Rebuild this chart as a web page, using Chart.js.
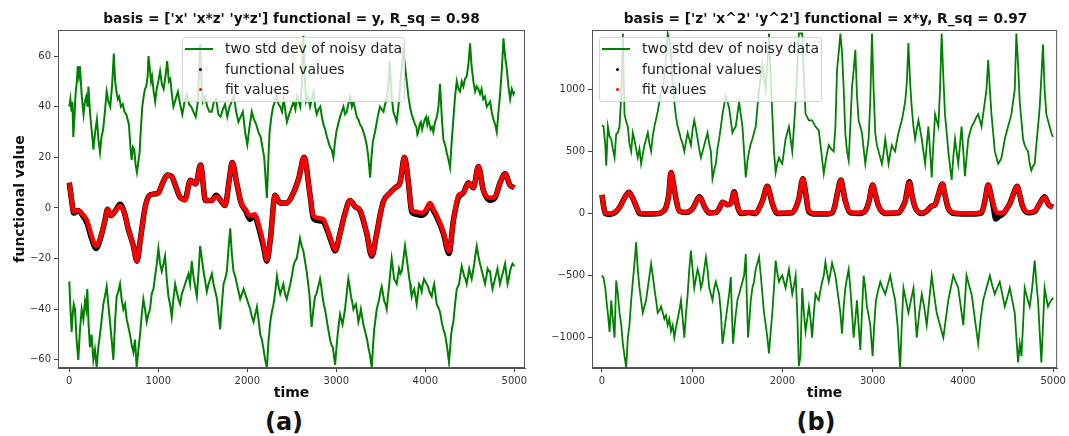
<!DOCTYPE html>
<html>
<head>
<meta charset="utf-8">
<script src="https://cdn.jsdelivr.net/npm/chart.js@4.4.0/dist/chart.umd.min.js"></script>
<style>
    body { margin: 0; background: #fff; font-family: "DejaVu Sans", sans-serif; }
    #wrap { position: relative; width: 1069px; height: 436px; overflow: hidden; }
    canvas { position: absolute; top: 0; }
    .title { position: absolute; top: 10px; width: 467px; font-weight: bold; font-size: 13.7px; text-align: center; color: #111; white-space: nowrap; }
    .panel { position: absolute; top: 407px; width: 80px; line-height: 30px; font-weight: bold; font-size: 24px; text-align: center; color: #111; }
    .legend { position: absolute; top: 37px; width: 221px; height: 63px; background: rgba(255, 255, 255, 0.8); border: 1px solid #d4d4d4; border-radius: 3px; font-size: 14px; color: #222; }
    .legend div { position: relative; height: 20.5px; line-height: 20.5px; padding-left: 42px; white-space: nowrap; }
    .legend .line { position: absolute; left: 2px; top: 10px; width: 28px; height: 2px; padding: 0; background: #008000; }
    .legend .dot { position: absolute; left: 16px; top: 9px; width: 3px; height: 3px; padding: 0; border-radius: 50%; }
</style>
</head>
<body>
<div id="wrap">
    <canvas id="chartA" width="535" height="405" style="left:0"></canvas>
    <canvas id="chartB" width="534" height="405" style="left:535px"></canvas>

    <div class="title" style="left:58px">basis = ['x' 'x*z' 'y*z'] functional = y, R_sq = 0.98</div>
    <div class="title" style="left:592px">basis = ['z' 'x^2' 'y^2'] functional = x*y, R_sq = 0.97</div>

    <div class="legend" style="left:182px">
        <div><span class="line"></span>two std dev of noisy data</div>
        <div><span class="dot" style="background:#000"></span>functional values</div>
        <div><span class="dot" style="background:#f00"></span>fit values</div>
    </div>
    <div class="legend" style="left:599px">
        <div><span class="line"></span>two std dev of noisy data</div>
        <div><span class="dot" style="background:#000"></span>functional values</div>
        <div><span class="dot" style="background:#f00"></span>fit values</div>
    </div>

    <div class="panel" style="left:244px">(a)</div>
    <div class="panel" style="left:776px">(b)</div>
</div>

<script>
// Tick labels
const xTicks = [0, 1000, 2000, 3000, 4000, 5000];
const yTicksA = [-60, -40, -20, 0, 20, 40, 60];
const yTicksB = [-1000, -500, 0, 500, 1000];

// (a) y-functional: [time, value]
const upperA = [[0,40],[12,43],[25,38],[35,42],[45,28],[58,36],[70,45],[85,50],[95,56],[108,52],[120,56],[140,44],[160,37],[175,42],[190,44],[205,40],[215,48],[232,38],[250,31],[262,27],[270,23],[290,30],[310,35],[328,27],[345,22],[362,28],[380,31],[400,38],[420,46],[440,42],[460,40],[480,48],[500,61],[515,50],[530,46],[545,43],[560,44],[580,40],[600,41],[620,38],[640,37],[655,35],[670,33],[685,25],[700,19],[715,24],[730,23],[745,17],[760,14],[775,18],[790,22],[805,32],[820,40],[835,44],[850,47],[865,48],[880,52],[890,60],[905,55],[918,50],[930,52],[948,46],[965,42],[982,47],[1000,50],[1020,54],[1040,49],[1060,47],[1080,52],[1100,58],[1118,50],[1135,51],[1152,45],[1170,40],[1195,43],[1220,46],[1245,41],[1270,37],[1295,42],[1320,45],[1345,41],[1370,40],[1395,38],[1420,36],[1445,42],[1470,65],[1485,50],[1500,42],[1525,44],[1550,40],[1575,38],[1600,38],[1625,42],[1650,43],[1675,37],[1700,36],[1725,39],[1750,41],[1775,36],[1800,40],[1825,42],[1850,44],[1875,38],[1900,34],[1925,36],[1950,38],[1975,30],[2000,25],[2025,32],[2050,38],[2075,35],[2100,33],[2125,30],[2150,28],[2170,24],[2190,20],[2205,12],[2220,4],[2235,18],[2250,30],[2270,36],[2290,40],[2310,42],[2330,44],[2350,41],[2370,40],[2390,38],[2410,43],[2428,38],[2445,34],[2462,36],[2480,38],[2500,40],[2520,42],[2540,39],[2560,44],[2578,42],[2595,40],[2612,48],[2630,68],[2645,52],[2660,42],[2682,44],[2705,40],[2725,43],[2745,46],[2762,40],[2780,37],[2800,39],[2820,40],[2838,36],[2855,33],[2875,31],[2895,28],[2912,26],[2930,24],[2948,23],[2967,20],[2985,26],[3000,30],[3020,33],[3042,36],[3060,38],[3080,40],[3098,37],[3117,38],[3135,41],[3155,44],[3175,40],[3192,42],[3212,39],[3230,36],[3248,35],[3266,33],[3285,32],[3305,30],[3322,28],[3341,25],[3360,20],[3380,12],[3395,20],[3410,26],[3422,28],[3435,30],[3450,33],[3465,36],[3478,38],[3491,40],[3510,39],[3530,38],[3548,41],[3566,43],[3584,48],[3600,58],[3620,45],[3641,38],[3660,36],[3678,34],[3698,40],[3716,48],[3735,55],[3753,62],[3772,56],[3791,50],[3810,44],[3828,40],[3846,37],[3866,35],[3884,33],[3900,32],[3911,29],[3922,30],[3936,33],[3950,34],[3964,31],[3978,33],[3994,35],[4010,36],[4022,33],[4034,35],[4047,33],[4060,31],[4075,32],[4090,30],[4110,34],[4130,36],[4148,40],[4165,49],[4185,36],[4203,27],[4222,25],[4240,22],[4260,19],[4278,16],[4296,26],[4315,35],[4334,44],[4353,50],[4372,47],[4390,46],[4410,50],[4428,48],[4446,51],[4465,52],[4485,57],[4503,65],[4520,56],[4540,50],[4560,46],[4578,48],[4596,47],[4615,45],[4632,47],[4650,43],[4670,44],[4690,40],[4710,41],[4728,42],[4746,38],[4765,35],[4785,33],[4803,30],[4822,38],[4840,45],[4860,55],[4878,67],[4896,60],[4915,55],[4934,48],[4953,43],[4972,47],[4990,45],[5000,46]];

const lowerA = [[0,-29],[13,-40],[26,-49],[38,-42],[50,-38],[64,-40],[82,-52],[101,-60],[120,-48],[139,-40],[158,-44],[176,-37],[190,-40],[202,-32],[217,-46],[232,-55],[250,-50],[270,-60],[288,-56],[307,-63],[326,-55],[345,-50],[364,-44],[382,-38],[400,-35],[420,-31],[438,-38],[457,-45],[476,-52],[495,-60],[514,-45],[532,-35],[551,-33],[570,-30],[588,-36],[607,-40],[626,-38],[645,-44],[664,-47],[682,-50],[701,-54],[720,-57],[738,-52],[757,-63],[776,-56],[795,-50],[814,-42],[832,-36],[851,-40],[870,-45],[888,-42],[907,-40],[925,-34],[945,-32],[964,-27],[983,-22],[1001,-16],[1020,-22],[1039,-25],[1058,-22],[1076,-19],[1095,-28],[1114,-35],[1132,-38],[1151,-43],[1170,-36],[1189,-30],[1207,-33],[1226,-36],[1245,-38],[1264,-34],[1283,-32],[1301,-30],[1320,-28],[1339,-26],[1357,-30],[1376,-21],[1395,-27],[1414,-31],[1433,-35],[1451,-26],[1470,-15],[1489,-20],[1508,-25],[1527,-29],[1545,-33],[1564,-30],[1583,-28],[1602,-26],[1620,-30],[1640,-33],[1660,-36],[1677,-42],[1695,-48],[1714,-38],[1733,-30],[1751,-28],[1770,-25],[1789,-16],[1808,-8],[1826,-18],[1845,-25],[1864,-27],[1883,-30],[1901,-33],[1920,-36],[1939,-34],[1958,-32],[1976,-34],[1995,-36],[2014,-38],[2033,-40],[2051,-43],[2070,-45],[2089,-42],[2108,-39],[2126,-44],[2145,-50],[2164,-52],[2183,-56],[2201,-60],[2220,-63],[2239,-52],[2258,-45],[2276,-41],[2295,-38],[2314,-33],[2333,-27],[2351,-31],[2370,-34],[2388,-32],[2405,-30],[2424,-34],[2443,-36],[2463,-33],[2483,-30],[2500,-27],[2518,-23],[2536,-21],[2555,-20],[2574,-16],[2592,-12],[2611,-15],[2630,-17],[2648,-21],[2667,-25],[2684,-30],[2700,-35],[2712,-42],[2723,-47],[2742,-40],[2761,-35],[2775,-34],[2790,-32],[2804,-30],[2817,-28],[2831,-31],[2845,-35],[2859,-38],[2873,-40],[2887,-43],[2900,-46],[2915,-49],[2930,-52],[2945,-54],[2960,-55],[2973,-58],[2986,-62],[3000,-56],[3015,-50],[3028,-46],[3042,-42],[3056,-44],[3070,-46],[3084,-43],[3098,-40],[3116,-34],[3135,-28],[3150,-31],[3165,-35],[3178,-37],[3192,-40],[3206,-39],[3220,-38],[3234,-41],[3248,-45],[3262,-43],[3276,-40],[3290,-43],[3304,-46],[3318,-48],[3332,-50],[3346,-52],[3360,-55],[3378,-58],[3398,-63],[3412,-55],[3425,-48],[3440,-44],[3454,-40],[3468,-38],[3482,-36],[3496,-33],[3510,-31],[3525,-34],[3540,-37],[3553,-38],[3566,-40],[3580,-35],[3595,-30],[3608,-25],[3622,-20],[3636,-24],[3650,-28],[3664,-29],[3678,-30],[3692,-27],[3705,-24],[3720,-26],[3735,-25],[3754,-20],[3772,-15],[3791,-20],[3810,-25],[3820,-28],[3830,-30],[3838,-33],[3847,-35],[3861,-33],[3875,-32],[3889,-35],[3903,-38],[3916,-34],[3930,-30],[3945,-31],[3959,-33],[3972,-30],[3985,-28],[4000,-29],[4015,-30],[4030,-31],[4045,-33],[4058,-34],[4072,-35],[4086,-32],[4100,-30],[4114,-34],[4128,-38],[4142,-39],[4156,-40],[4170,-42],[4184,-45],[4203,-48],[4222,-50],[4245,-55],[4266,-61],[4278,-56],[4290,-50],[4303,-47],[4315,-45],[4334,-38],[4353,-32],[4366,-31],[4380,-30],[4395,-26],[4409,-23],[4423,-25],[4437,-27],[4451,-28],[4465,-30],[4479,-27],[4493,-24],[4507,-26],[4521,-28],[4536,-25],[4550,-22],[4564,-18],[4578,-15],[4596,-19],[4615,-22],[4629,-24],[4643,-26],[4657,-28],[4671,-30],[4686,-27],[4700,-24],[4714,-25],[4727,-25],[4741,-29],[4755,-32],[4769,-30],[4783,-28],[4797,-26],[4811,-24],[4825,-27],[4839,-30],[4853,-28],[4868,-26],[4882,-24],[4896,-22],[4910,-26],[4924,-30],[4938,-28],[4952,-25],[4966,-23],[4980,-22],[5000,-23]];

const funcA = [[0,10],[30,2],[50,-2],[100,-1],[150,-3],[200,-6],[250,-12],[300,-16],[350,-12],[400,-5],[430,-0.5],[470,-3],[520,-1],[570,1.5],[620,-2],[660,-8],[720,-15],[760,-21],[800,-12],[850,0],[900,5],[950,5.5],[1000,6],[1050,10],[1100,13],[1150,12.5],[1200,8],[1250,4],[1300,3.5],[1360,11],[1420,9.5],[1475,17],[1530,3],[1600,3],[1650,5],[1700,3],[1750,1],[1800,12],[1830,18],[1880,10],[1930,2],[1980,-1],[2030,-4.5],[2080,-3],[2130,-8],[2180,-15],[2220,-21],[2260,-12],[2311,5],[2368,2],[2440,2],[2518,6],[2580,12],[2637,20],[2705,5],[2742,-4],[2800,-5],[2855,-5.5],[2900,-9],[2950,-14],[2986,-17],[3042,-10],[3098,-2],[3154,3],[3210,0.6],[3266,-1],[3341,-10],[3398,-19],[3454,-10],[3491,-3],[3529,2.6],[3604,6],[3660,8],[3716,10],[3765,20],[3810,10],[3847,-1.5],[3900,-2.5],[3960,-3],[4000,-2],[4053,1.5],[4090,-1],[4128,-3.5],[4203,-10],[4266,-18],[4315,-5],[4371,4],[4428,6],[4484,10],[4540,8],[4596,16.4],[4652,7],[4727,3],[4783,4],[4840,10],[4896,13.5],[4952,9],[5000,8]];

const fitA = [[0,10],[30,2],[50,-1.5],[100,-1],[150,-2.5],[200,-5],[250,-11],[300,-15],[350,-11.5],[400,-5],[430,-0.5],[470,-3],[520,-1],[570,0.8],[620,-2],[660,-8],[720,-15],[760,-21],[800,-12],[850,0],[900,5],[950,5.5],[1000,6],[1050,10],[1100,13],[1150,12.5],[1200,8],[1250,4],[1300,3],[1360,11],[1420,9.5],[1475,17],[1530,3],[1600,3],[1650,4.5],[1700,3],[1750,1],[1800,12],[1830,18],[1880,10],[1930,2],[1980,-0.5],[2030,-3],[2080,-2.5],[2130,-7],[2180,-14],[2220,-20.5],[2260,-12],[2311,5],[2368,2],[2440,2],[2518,6],[2580,12],[2637,20],[2705,5],[2742,-3],[2800,-4],[2855,-4.5],[2900,-8.5],[2950,-13.5],[2986,-16.5],[3042,-10],[3098,-2],[3154,3],[3210,0.6],[3266,-0.7],[3341,-10],[3398,-18.5],[3454,-10],[3491,-3],[3529,2.6],[3604,6],[3660,8],[3716,10],[3765,20],[3810,10],[3847,-1],[3900,-1.5],[3960,-2],[4000,-1],[4053,2],[4090,-0.5],[4128,-3],[4203,-9.5],[4266,-17.2],[4315,-5],[4371,5],[4428,6],[4484,10],[4540,8],[4596,16.4],[4652,7],[4727,4],[4783,4.5],[4840,10],[4896,13.5],[4952,9],[5000,8]];

// (b) x*y-functional: [time, value]
const upperB = [[0,711],[18,700],[37,550],[48,384],[66,700],[85,620],[103,600],[121,520],[140,450],[158,640],[177,650],[195,700],[214,950],[232,1450],[250,800],[269,740],[287,700],[305,560],[324,500],[342,650],[361,590],[379,520],[397,450],[416,520],[434,400],[453,480],[471,550],[490,600],[508,650],[527,560],[545,500],[563,620],[581,700],[600,760],[618,820],[637,900],[655,980],[674,1000],[692,1100],[710,1250],[729,1450],[747,1400],[765,1300],[784,1050],[802,900],[820,780],[839,700],[858,650],[876,600],[895,560],[913,500],[932,580],[950,650],[968,600],[986,550],[1005,680],[1023,750],[1042,680],[1060,600],[1078,520],[1097,450],[1115,500],[1133,550],[1152,600],[1170,650],[1189,560],[1207,500],[1225,280],[1244,350],[1262,400],[1280,520],[1299,600],[1318,700],[1336,800],[1355,880],[1373,950],[1391,900],[1409,850],[1428,750],[1446,650],[1465,680],[1483,700],[1501,800],[1520,900],[1538,800],[1557,700],[1575,500],[1594,290],[1612,420],[1630,500],[1649,560],[1667,600],[1685,650],[1704,700],[1722,850],[1741,1000],[1760,1100],[1778,1200],[1796,1100],[1815,1000],[1833,1200],[1851,1450],[1870,1100],[1888,800],[1906,500],[1925,330],[1943,400],[1962,450],[1980,420],[1998,400],[2017,500],[2035,600],[2054,650],[2072,700],[2090,600],[2109,500],[2128,700],[2146,900],[2164,1150],[2182,1450],[2200,1450],[2219,1450],[2238,1100],[2256,805],[2292,750],[2329,750],[2366,700],[2403,670],[2430,500],[2458,320],[2485,450],[2513,550],[2540,520],[2568,500],[2587,700],[2605,1157],[2624,1300],[2642,1450],[2660,1300],[2679,1000],[2697,643],[2716,500],[2734,427],[2752,700],[2771,1020],[2789,1150],[2808,1319],[2826,950],[2844,750],[2863,700],[2881,650],[2900,520],[2918,400],[2936,500],[2955,600],[2973,900],[2992,1450],[3010,1000],[3028,650],[3047,550],[3065,500],[3084,450],[3102,400],[3120,480],[3139,600],[3158,500],[3176,400],[3194,480],[3212,550],[3231,520],[3249,500],[3267,580],[3286,650],[3304,700],[3323,750],[3341,820],[3360,900],[3378,1050],[3396,1373],[3415,1050],[3433,850],[3452,700],[3470,600],[3488,680],[3507,750],[3525,680],[3544,600],[3562,500],[3581,400],[3599,550],[3617,700],[3636,500],[3654,290],[3672,550],[3691,800],[3709,750],[3728,700],[3746,1000],[3764,1450],[3783,1100],[3801,800],[3820,650],[3838,500],[3857,380],[3875,270],[3893,450],[3912,600],[3930,500],[3948,400],[3967,550],[3985,700],[4004,500],[4022,300],[4040,450],[4059,600],[4077,650],[4096,700],[4114,720],[4132,750],[4151,780],[4169,800],[4188,750],[4206,700],[4224,800],[4243,900],[4261,1000],[4280,1238],[4298,1000],[4316,800],[4335,650],[4353,500],[4372,450],[4390,400],[4408,420],[4427,450],[4445,520],[4464,600],[4482,650],[4500,700],[4519,750],[4537,800],[4556,900],[4574,1000],[4592,1450],[4611,1200],[4629,900],[4648,750],[4666,600],[4684,550],[4703,520],[4721,500],[4740,400],[4758,346],[4776,380],[4795,400],[4813,550],[4832,700],[4850,850],[4869,1100],[4887,1360],[4905,1000],[4924,800],[4942,750],[4961,700],[4979,650],[4997,616]];

const lowerB = [[0,-500],[18,-520],[37,-600],[50,-700],[66,-808],[85,-955],[103,-700],[121,-850],[140,-1000],[158,-540],[177,-650],[195,-800],[214,-900],[232,-1050],[250,-1150],[269,-1240],[287,-1000],[305,-900],[324,-700],[342,-550],[361,-400],[379,-233],[397,-450],[416,-600],[434,-700],[453,-800],[471,-750],[489,-700],[508,-600],[527,-500],[545,-406],[563,-500],[581,-600],[600,-700],[618,-800],[637,-780],[655,-750],[674,-800],[692,-850],[710,-820],[729,-900],[747,-850],[765,-950],[784,-900],[802,-1000],[820,-920],[839,-850],[858,-780],[876,-700],[895,-850],[913,-1000],[932,-800],[950,-650],[968,-450],[986,-300],[1005,-450],[1023,-600],[1042,-520],[1060,-450],[1078,-500],[1097,-600],[1115,-550],[1133,-450],[1152,-353],[1170,-450],[1189,-600],[1207,-650],[1225,-700],[1244,-600],[1262,-550],[1280,-600],[1299,-650],[1318,-800],[1336,-1050],[1355,-950],[1373,-850],[1391,-750],[1409,-650],[1428,-513],[1440,-800],[1453,-1050],[1477,-850],[1501,-700],[1520,-650],[1538,-600],[1557,-550],[1575,-500],[1594,-326],[1606,-700],[1619,-1000],[1635,-850],[1649,-700],[1667,-600],[1685,-550],[1704,-450],[1722,-400],[1741,-350],[1760,-500],[1778,-650],[1796,-800],[1815,-900],[1833,-1000],[1851,-1128],[1870,-950],[1888,-800],[1906,-600],[1925,-380],[1943,-480],[1962,-550],[1980,-520],[1998,-500],[2017,-550],[2035,-600],[2054,-520],[2072,-450],[2090,-550],[2109,-650],[2128,-580],[2146,-500],[2164,-800],[2182,-1230],[2200,-1150],[2219,-600],[2238,-800],[2256,-950],[2275,-850],[2293,-750],[2311,-850],[2329,-1000],[2348,-800],[2366,-650],[2385,-680],[2403,-700],[2421,-620],[2440,-550],[2458,-500],[2476,-393],[2495,-480],[2513,-550],[2532,-480],[2550,-400],[2568,-450],[2587,-500],[2605,-600],[2624,-700],[2642,-800],[2660,-968],[2679,-750],[2697,-600],[2716,-520],[2734,-450],[2752,-600],[2771,-800],[2789,-1000],[2808,-850],[2826,-700],[2844,-900],[2863,-1100],[2881,-800],[2900,-500],[2918,-600],[2936,-750],[2955,-820],[2973,-900],[2999,-1150],[3017,-900],[3036,-700],[3060,-620],[3084,-550],[3110,-600],[3139,-650],[3165,-580],[3194,-500],[3220,-600],[3249,-700],[3276,-900],[3304,-1250],[3322,-900],[3341,-600],[3368,-700],[3396,-800],[3424,-700],[3452,-600],[3470,-800],[3488,-1000],[3516,-800],[3544,-650],[3570,-750],[3599,-900],[3626,-700],[3654,-500],[3680,-650],[3709,-800],[3746,-900],[3783,-1000],[3810,-850],[3838,-700],[3865,-600],[3893,-500],[3920,-550],[3948,-600],[3976,-750],[4004,-900],[4022,-700],[4040,-500],[4068,-580],[4096,-650],[4132,-850],[4169,-1050],[4196,-850],[4224,-700],[4261,-600],[4298,-500],[4325,-580],[4353,-650],[4380,-600],[4408,-550],[4436,-650],[4464,-750],[4491,-680],[4519,-600],[4546,-700],[4574,-800],[4592,-1000],[4611,-1200],[4630,-1050],[4648,-1150],[4666,-900],[4684,-600],[4712,-680],[4740,-750],[4767,-600],[4795,-380],[4813,-550],[4832,-700],[4850,-950],[4869,-1200],[4887,-900],[4905,-600],[4924,-680],[4942,-750],[4961,-720],[4979,-700],[5000,-680]];

const funcB = [[0,150],[18,60],[37,0],[85,-8],[158,15],[200,55],[232,100],[270,150],[298,170],[330,140],[361,90],[390,40],[416,0],[500,-5],[600,-3],[660,8],[710,50],[740,150],[765,330],[790,250],[820,120],[857,20],[931,8],[1005,40],[1040,90],[1078,135],[1105,110],[1133,60],[1160,25],[1189,3],[1262,8],[1300,40],[1336,90],[1365,80],[1391,70],[1428,80],[1465,175],[1485,120],[1501,60],[1538,0],[1630,8],[1704,0],[1740,40],[1778,100],[1833,220],[1860,160],[1888,80],[1943,0],[2109,5],[2150,50],[2182,120],[2226,280],[2250,200],[2292,15],[2366,-5],[2480,-5],[2550,5],[2580,60],[2605,150],[2649,270],[2670,200],[2697,100],[2752,5],[2850,0],[2918,20],[2960,100],[2999,230],[3030,150],[3065,60],[3139,0],[3286,5],[3330,50],[3360,100],[3407,255],[3435,150],[3470,50],[3544,0],[3600,20],[3654,60],[3690,70],[3728,150],[3772,238],[3800,150],[3838,40],[3912,0],[4100,-5],[4206,5],[4243,100],[4280,230],[4310,150],[4335,60],[4364,-45],[4390,-30],[4450,0],[4482,35],[4520,80],[4556,150],[4600,219],[4630,150],[4655,70],[4721,5],[4795,15],[4850,80],[4905,135],[4950,70],[4997,50]];

const fitB = [[0,150],[18,60],[37,5],[85,0],[158,20],[200,55],[232,100],[270,150],[298,170],[330,140],[361,90],[390,40],[416,5],[500,0],[600,0],[660,10],[710,50],[740,150],[765,330],[790,250],[820,120],[857,20],[931,10],[1005,40],[1040,90],[1078,130],[1105,110],[1133,60],[1160,25],[1189,5],[1262,10],[1300,40],[1336,90],[1365,80],[1391,70],[1428,80],[1465,170],[1485,120],[1501,60],[1538,5],[1630,10],[1704,5],[1740,40],[1778,100],[1833,220],[1860,160],[1888,80],[1943,5],[2109,10],[2150,50],[2182,120],[2226,280],[2250,200],[2292,20],[2366,0],[2480,0],[2550,10],[2580,60],[2605,150],[2649,270],[2670,200],[2697,100],[2752,10],[2850,5],[2918,20],[2960,100],[2999,230],[3030,150],[3065,60],[3139,5],[3286,10],[3330,50],[3360,100],[3407,250],[3435,150],[3470,50],[3544,5],[3600,20],[3654,62],[3690,70],[3728,150],[3772,238],[3800,150],[3838,40],[3912,5],[4100,0],[4206,10],[4243,100],[4280,230],[4310,150],[4335,80],[4364,20],[4390,5],[4450,5],[4482,40],[4520,80],[4556,150],[4600,219],[4630,150],[4655,70],[4721,10],[4795,20],[4850,80],[4905,130],[4950,70],[4997,50]];

const FONT = '"DejaVu Sans", sans-serif';

function pts(pairs) {
    return pairs.map(p => ({ x: p[0], y: p[1] }));
}

function fmtTick(v) {
    return v < 0 ? '\u2212' + Math.abs(v) : String(v);
}

// Box around plot area, like matplotlib spines
const frame = {
    id: 'frame',
    afterDatasetsDraw(chart) {
        const { ctx, chartArea: a } = chart;
        ctx.save();
        ctx.strokeStyle = '#555';
        ctx.lineWidth = 1;
        ctx.strokeRect(a.left + 0.5, a.top + 0.5, a.right - a.left - 1, a.bottom - a.top - 1);
        ctx.restore();
    }
};

function makeChart(id, s) {
    const green = (data) => ({
        data: pts(data),
        borderColor: '#008000',
        borderWidth: s.greenWidth,
        pointRadius: 0,
        tension: 0
    });
    new Chart(document.getElementById(id), {
        type: 'line',
        data: {
            datasets: [
                {
                    data: pts(s.fit),
                    borderColor: '#ff0000',
                    borderWidth: 4.5,
                    pointRadius: 0,
                    cubicInterpolationMode: 'monotone',
                    order: 0
                },
                {
                    data: pts(s.func),
                    borderColor: '#000000',
                    borderWidth: 5.5,
                    pointRadius: 0,
                    cubicInterpolationMode: 'monotone',
                    order: 1
                },
                Object.assign(green(s.upper), { order: 2 }),
                Object.assign(green(s.lower), { order: 3 })
            ]
        },
        options: {
            responsive: false,
            animation: false,
            events: [],
            layout: { padding: { top: 30, right: 10, left: 0, bottom: 0 } },
            plugins: { legend: { display: false }, tooltip: { enabled: false } },
            scales: {
                x: {
                    type: 'linear',
                    min: s.xMin,
                    max: s.xMax,
                    afterBuildTicks: (ax) => { ax.ticks = xTicks.map(v => ({ value: v })); },
                    afterFit: (ax) => { ax.height = 37; },
                    grid: { drawOnChartArea: false, tickLength: 4, color: '#444' },
                    border: { color: '#555' },
                    ticks: { font: { family: FONT, size: 10 }, color: '#333', padding: 3, maxRotation: 0, callback: fmtTick },
                    title: {
                        display: true, text: 'time', color: '#111',
                        font: { family: FONT, size: 14, weight: 'bold' },
                        padding: { top: 0, bottom: 3 }
                    }
                },
                y: {
                    min: s.yMin,
                    max: s.yMax,
                    afterBuildTicks: (ax) => { ax.ticks = s.yTicks.map(v => ({ value: v })); },
                    afterFit: (ax) => { ax.width = s.yWidth; },
                    grid: { drawOnChartArea: false, tickLength: 4, color: '#444' },
                    border: { color: '#555' },
                    ticks: { font: { family: FONT, size: 10 }, color: '#333', padding: 3, callback: fmtTick },
                    title: {
                        display: !!s.yTitle, text: s.yTitle || '', color: '#111',
                        font: { family: FONT, size: 14, weight: 'bold' },
                        padding: { top: 12, bottom: 0 }
                    }
                }
            }
        },
        plugins: [frame]
    });
}

makeChart('chartA', {
    upper: upperA, lower: lowerA, func: funcA, fit: fitA,
    xMin: -127, xMax: 5120, yMin: -63.2, yMax: 70.3,
    yTicks: yTicksA, yWidth: 58, yTitle: 'functional value', greenWidth: 2
});

makeChart('chartB', {
    upper: upperB, lower: lowerB, func: funcB, fit: fitB,
    xMin: -110, xMax: 5044, yMin: -1245, yMax: 1478,
    yTicks: yTicksB, yWidth: 57, yTitle: null, greenWidth: 1.8
});
</script>
</body>
</html>
